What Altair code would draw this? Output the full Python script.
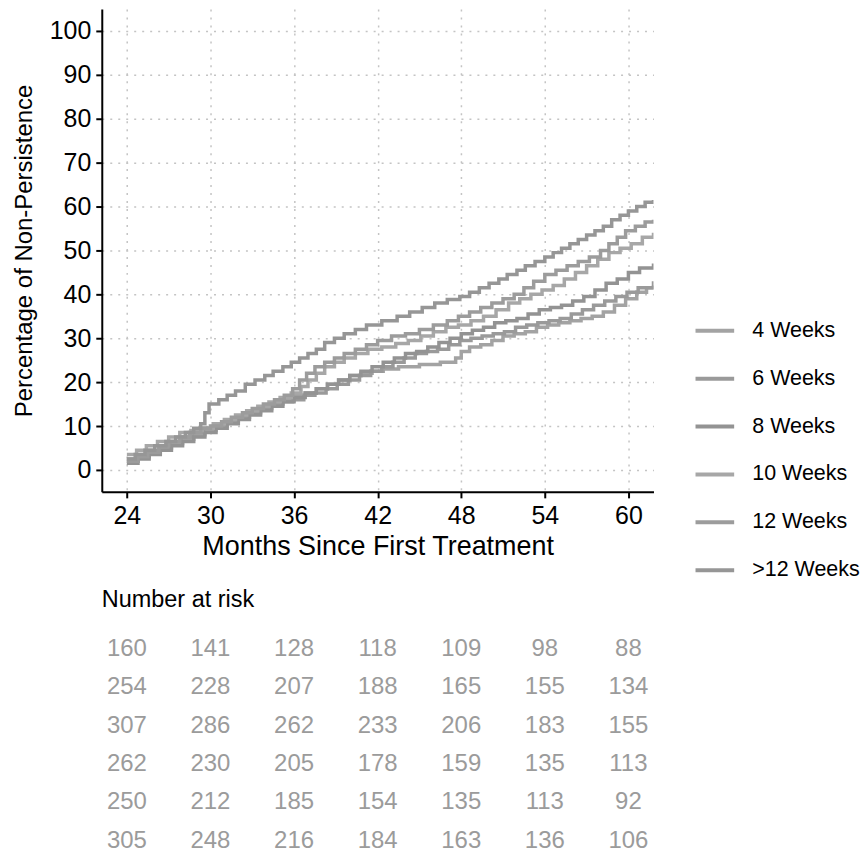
import altair as alt
import pandas as pd

FONT = "Liberation Sans"

groups = ["4 Weeks", "6 Weeks", "8 Weeks", "10 Weeks", "12 Weeks", ">12 Weeks"]
colors = ["#a3a3a3", "#9a9a9a", "#939393", "#a7a7a7", "#9c9c9c", "#969696"]

# Kaplan-Meier style step curves (months, % non-persistence)
t_gt12 = [24.0, 24.6, 25.3, 26.0, 26.8, 27.5, 28.2, 28.8, 29.3, 29.6, 29.9, 30.6, 31.2, 31.8,
          32.5, 33.2, 33.9, 34.5, 35.2, 35.8, 36.4, 37.0, 37.6, 38.2, 38.9, 39.6, 40.4, 41.2,
          42.3, 43.4, 44.3, 45.2, 46.1, 47.0, 47.9, 48.6, 49.3, 50.0, 50.7, 51.3, 52.0, 52.6,
          53.3, 54.0, 54.6, 55.2, 55.8, 56.4, 57.0, 57.6, 58.2, 58.8, 59.4, 60.0, 60.6, 61.2, 61.8]
p_gt12 = [2.5, 3.5, 4.5, 5.5, 6.5, 7.5, 8.5, 9.5, 10.5, 13.0, 15.0, 16.0, 17.0, 18.0,
          19.5, 20.5, 21.5, 22.5, 23.5, 24.5, 25.5, 26.5, 27.5, 29.0, 30.0, 31.0, 32.0, 33.0,
          34.0, 35.0, 36.0, 37.0, 38.0, 38.8, 39.5, 40.5, 41.5, 42.5, 43.5, 44.5, 45.5, 46.5,
          47.5, 48.5, 49.5, 50.5, 51.5, 52.5, 53.5, 54.5, 55.5, 57.0, 58.0, 59.0, 60.0, 61.0, 61.5]

t_12 = [24.0, 24.8, 25.5, 26.3, 27.0, 27.8, 28.5, 29.3, 30.0, 30.8, 31.5, 32.3, 33.0, 33.8,
        34.6, 35.3, 35.9, 36.4, 36.9, 37.5, 38.2, 38.9, 39.6, 40.4, 41.2, 42.0, 43.0, 44.0,
        45.0, 46.0, 47.0, 47.8, 48.6, 49.4, 50.2, 51.0, 51.8, 52.5, 53.2, 54.0, 54.8, 55.6,
        56.4, 57.2, 58.0, 58.6, 59.2, 59.8, 60.5, 61.2, 61.8]
p_12 = [2.0, 3.0, 4.0, 5.5, 6.5, 7.5, 8.5, 9.5, 10.0, 11.0, 12.0, 13.0, 14.0, 15.0,
        16.0, 17.0, 18.5, 20.5, 22.0, 23.5, 24.5, 25.5, 26.5, 27.5, 28.5, 29.5, 30.5, 31.0,
        32.0, 33.0, 34.0, 35.0, 36.0, 37.0, 38.0, 39.0, 40.0, 41.5, 43.0, 44.5, 45.5, 46.5,
        47.5, 48.5, 50.0, 51.5, 53.0, 54.5, 55.5, 56.5, 57.0]

t_10 = [24.0, 24.7, 25.4, 26.2, 27.0, 27.8, 28.6, 29.4, 30.2, 31.0, 31.8, 32.6, 33.4, 34.2,
        35.0, 35.8, 36.5, 37.0, 37.6, 38.2, 38.9, 39.6, 40.4, 41.3, 42.3, 43.3, 44.2, 45.1,
        46.0, 46.9, 47.8, 48.7, 49.6, 50.5, 51.4, 52.2, 53.0, 53.8, 54.6, 55.4, 56.2, 57.0,
        57.8, 58.6, 59.4, 60.2, 61.0, 61.8]
p_10 = [3.5, 4.5, 5.5, 6.5, 7.5, 8.5, 9.0, 9.5, 10.5, 11.5, 12.5, 13.5, 14.5, 15.5,
        16.5, 17.5, 19.0, 20.5, 22.0, 23.5, 24.5, 25.5, 26.5, 27.5, 28.0, 28.8, 29.5, 30.5,
        31.5, 32.5, 33.0, 34.0, 35.0, 36.5, 38.0, 39.0, 40.0, 41.0, 42.0, 43.5, 45.0, 46.5,
        48.0, 49.5, 50.5, 51.5, 53.0, 54.0]

t_8 = [24.0, 24.8, 25.6, 26.4, 27.2, 28.0, 28.8, 29.6, 30.4, 31.2, 32.0, 32.8, 33.6, 34.4,
       35.2, 36.0, 36.8, 37.6, 38.4, 39.2, 40.0, 40.8, 41.6, 42.4, 43.2, 44.0, 44.8, 45.6,
       46.4, 47.2, 48.0, 48.8, 49.6, 50.4, 51.2, 52.0, 52.8, 53.6, 54.4, 55.2, 56.0, 56.8,
       57.6, 58.4, 59.2, 60.0, 60.8, 61.8]
p_8 = [1.5, 2.5, 3.5, 4.5, 5.5, 6.5, 7.5, 8.5, 9.5, 10.5, 11.5, 12.5, 13.5, 14.5,
       15.5, 16.5, 17.5, 18.5, 19.5, 20.5, 21.5, 22.5, 23.5, 24.5, 25.5, 26.5, 27.0, 28.0,
       29.0, 30.0, 31.0, 31.8, 32.5, 33.5, 34.0, 34.5, 35.5, 36.5, 37.0, 37.5, 38.5, 39.5,
       41.0, 42.5, 43.5, 45.0, 46.0, 47.0]

t_6 = [24.0, 24.7, 25.5, 26.3, 27.1, 27.9, 28.7, 29.5, 30.3, 31.1, 31.9, 32.7, 33.5, 34.3,
       35.1, 35.9, 36.7, 37.5, 38.3, 39.1, 39.9, 40.7, 41.5, 42.3, 43.1, 43.9, 44.7, 45.5,
       46.3, 47.1, 47.9, 48.7, 49.5, 50.3, 51.1, 51.9, 52.7, 53.5, 54.3, 55.1, 55.9, 56.7,
       57.5, 58.3, 59.1, 59.9, 60.7, 61.8]
p_6 = [2.5, 3.5, 4.5, 5.5, 6.5, 7.5, 8.5, 9.5, 10.5, 11.0, 12.0, 13.0, 14.0, 15.0,
       15.5, 16.0, 17.0, 17.5, 18.5, 19.5, 20.5, 21.5, 22.5, 23.5, 24.5, 25.5, 26.5, 27.0,
       27.5, 28.5, 29.5, 30.0, 30.5, 31.0, 31.5, 32.5, 33.0, 33.5, 34.0, 34.5, 35.5, 36.5,
       37.5, 38.5, 39.5, 40.5, 41.5, 43.0]

t_4 = [24.0, 24.8, 25.6, 26.4, 27.2, 28.0, 28.8, 29.6, 30.4, 31.2, 32.0, 32.8, 33.6, 34.4,
       35.2, 36.0, 36.8, 37.6, 38.4, 39.2, 40.0, 40.8, 41.6, 42.4, 43.5, 45.0, 46.5, 47.6,
       48.0, 48.6, 49.4, 50.2, 51.0, 51.8, 52.6, 53.4, 54.2, 55.0, 55.8, 56.6, 57.4, 58.2,
       59.0, 59.8, 60.6, 61.3, 61.8]
p_4 = [2.0, 3.0, 4.0, 5.0, 6.0, 7.0, 8.0, 9.0, 10.0, 11.0, 12.0, 13.0, 14.0, 15.0,
       16.0, 17.0, 17.5, 18.5, 19.5, 20.5, 21.5, 22.0, 22.5, 23.0, 23.5, 24.0, 24.5, 25.5,
       27.0, 28.0, 28.5, 29.5, 30.5, 31.0, 31.5, 32.5, 33.0, 33.5, 34.0, 34.5, 35.0, 36.0,
       37.5, 39.0, 40.5, 41.5, 42.0]

# Number at risk
risk_months = [24, 30, 36, 42, 48, 54, 60]
risk_4 = [160, 141, 128, 118, 109, 98, 88]
risk_6 = [254, 228, 207, 188, 165, 155, 134]
risk_8 = [307, 286, 262, 233, 206, 183, 155]
risk_10 = [262, 230, 205, 178, 159, 135, 113]
risk_12 = [250, 212, 185, 154, 135, 113, 92]
risk_gt12 = [305, 248, 216, 184, 163, 136, 106]

x_ticks = [24, 30, 36, 42, 48, 54, 60]
y_ticks = [0, 10, 20, 30, 40, 50, 60, 70, 80, 90, 100]

curves = {
    "4 Weeks": (t_4, p_4),
    "6 Weeks": (t_6, p_6),
    "8 Weeks": (t_8, p_8),
    "10 Weeks": (t_10, p_10),
    "12 Weeks": (t_12, p_12),
    ">12 Weeks": (t_gt12, p_gt12),
}
rows = []
for g, (ts, ps) in curves.items():
    for t, p in zip(ts, ps):
        rows.append({"group": g, "month": t, "pct": p})
df = pd.DataFrame(rows)

risks = {"4 Weeks": risk_4, "6 Weeks": risk_6, "8 Weeks": risk_8,
         "10 Weeks": risk_10, "12 Weeks": risk_12, ">12 Weeks": risk_gt12}
rrows = []
for g, vals in risks.items():
    for m, n in zip(risk_months, vals):
        rrows.append({"group": g, "month": m, "n": n})
rdf = pd.DataFrame(rrows)

x_scale = alt.Scale(domain=[22.2, 61.8], nice=False, zero=False)
y_scale = alt.Scale(domain=[-5, 105], nice=False, zero=False)

lines = alt.Chart(df).mark_line(interpolate="step-after", strokeWidth=3.5, clip=True).encode(
    x=alt.X("month:Q", scale=x_scale,
            axis=alt.Axis(values=x_ticks, title="Months Since First Treatment",
                          labelPadding=6, titlePadding=5, titleFontSize=27)),
    y=alt.Y("pct:Q", scale=y_scale,
            axis=alt.Axis(values=y_ticks, title="Percentage of Non-Persistence",
                          labelPadding=5, titlePadding=13, titleFontSize=24)),
    color=alt.Color("group:N", scale=alt.Scale(domain=groups, range=colors),
                    legend=alt.Legend(title=None, orient="none", legendX=593, legendY=301,
                                      symbolType="stroke", symbolSize=1500, symbolStrokeWidth=4,
                                      labelFontSize=21.5, labelFont=FONT, labelColor="black",
                                      labelOffset=16, rowPadding=16)),
    detail="group:N",
).properties(width=553, height=484)

table = alt.Chart(rdf).mark_text(fontSize=24, font=FONT, color="#9b9b9b").encode(
    x=alt.X("month:Q", scale=x_scale, axis=None),
    y=alt.Y("group:N", sort=groups, scale=alt.Scale(type="point", padding=0.5), axis=None),
    text="n:Q",
).properties(
    width=553, height=231,
    title=alt.TitleParams("Number at risk", anchor="start", fontSize=23.5, font=FONT,
                          fontWeight="normal", color="black", offset=18),
)

chart = alt.vconcat(lines, table, spacing=28).properties(
    padding={"left": 4, "top": 0, "right": 0, "bottom": 0},
    background="white",
).configure_view(stroke=None).configure_axis(
    domainColor="black", domainWidth=2, tickColor="black", tickWidth=2, tickSize=6,
    labelColor="black", titleColor="black", labelFont=FONT, titleFont=FONT,
    labelFontSize=25, titleFontWeight="normal",
    grid=True, gridDash=[2, 6], gridColor="#c4c4c4", gridWidth=1.5,
)

chart.save("out.html", embed_options={"renderer": "svg", "actions": False})
